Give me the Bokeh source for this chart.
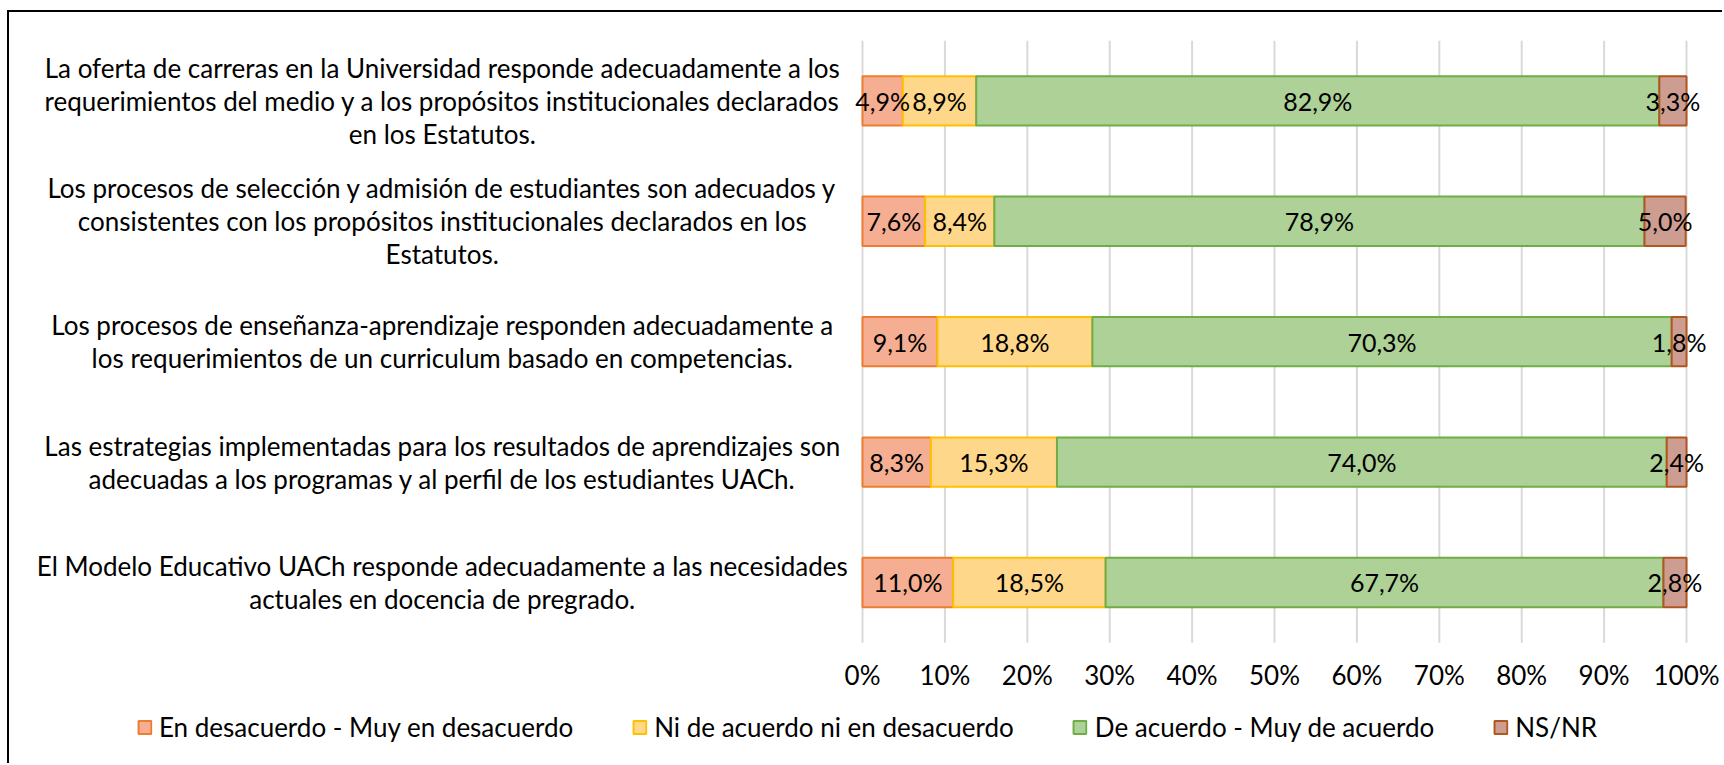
from bokeh.plotting import figure
from bokeh.models import ColumnDataSource, Legend, LegendItem, Range1d
from bokeh.core.properties import value
from bokeh.embed import file_html
from bokeh.resources import INLINE
import numpy as np

# ---------------- data ----------------
categories = [
    "La oferta de carreras en la Universidad responde adecuadamente a los requerimientos del medio y a los propósitos institucionales declarados en los Estatutos.",
    "Los procesos de selección y admisión de estudiantes son adecuados y consistentes con los propósitos institucionales declarados en los Estatutos.",
    "Los procesos de enseñanza-aprendizaje responden adecuadamente a los requerimientos de un curriculum basado en competencias.",
    "Las estrategias implementadas para los resultados de aprendizajes son adecuadas a los programas y al perfil de los estudiantes UACh.",
    "El Modelo Educativo UACh responde adecuadamente a las necesidades actuales en docencia de pregrado.",
]
category_lines = [
    "La oferta de carreras en la Universidad responde adecuadamente a los\nrequerimientos del medio y a los propósitos institucionales declarados\nen los Estatutos.",
    "Los procesos de selección y admisión de estudiantes son adecuados y\nconsistentes con los propósitos institucionales declarados en los\nEstatutos.",
    "Los procesos de enseñanza-aprendizaje responden adecuadamente a\nlos requerimientos de un curriculum basado en competencias.",
    "Las estrategias implementadas para los resultados de aprendizajes son\nadecuadas a los programas y al perfil de los estudiantes UACh.",
    "El Modelo Educativo UACh responde adecuadamente a las necesidades\nactuales en docencia de pregrado.",
]
series_names = [
    "En desacuerdo - Muy en desacuerdo",
    "Ni de acuerdo ni en desacuerdo",
    "De acuerdo - Muy de acuerdo",
    "NS/NR",
]
en_desacuerdo = [4.9, 7.6, 9.1, 8.3, 11.0]
ni_ni = [8.9, 8.4, 18.8, 15.3, 18.5]
de_acuerdo = [82.9, 78.9, 70.3, 74.0, 67.7]
ns_nr = [3.3, 5.0, 1.8, 2.4, 2.8]
tick_values = [0, 10, 20, 30, 40, 50, 60, 70, 80, 90, 100]
tick_labels = ["0%", "10%", "20%", "30%", "40%", "50%", "60%", "70%", "80%", "90%", "100%"]

# ---------------- style ----------------
FONT = "Lato"
FS = "26px"
fills = ["#F5AE92", "#FFD78A", "#ADD197", "#CD9D91"]
lines = ["#ED7D31", "#FFC000", "#70AD47", "#B0561E"]
fields = ["s0", "s1", "s2", "s3"]
LABEL_X = -51.0      # centre of the category label block (in axis units)
TICK_Y = -0.772      # vertical position of the percentage tick labels
BAR_H = 0.41

n = len(categories)
ypos = list(range(n - 1, -1, -1))   # first category on top

src = ColumnDataSource(dict(y=ypos, s0=en_desacuerdo, s1=ni_ni, s2=de_acuerdo, s3=ns_nr))

p = figure(width=1715, height=753,
           x_range=Range1d(-103.52, 104.61), y_range=Range1d(-1.520, 4.734),
           x_axis_type=None, y_axis_type=None,
           output_backend="svg", toolbar_location=None,
           min_border_left=0, min_border_right=0, min_border_top=0, min_border_bottom=0)
p.styles = {"margin-left": "7px", "margin-top": "10px",
            "border-left": "2px solid black", "border-top": "2px solid black"}
p.outline_line_color = None
p.background_fill_color = "white"
p.border_fill_color = "white"
p.grid.visible = False

# vertical gridlines (0% .. 100%)
p.segment(x0=tick_values, x1=tick_values, y0=-0.5, y1=n - 0.5,
          line_color="#D9D9D9", line_width=2)

# stacked bars
renderers = p.hbar_stack(fields, y="y", height=BAR_H, source=src,
                         fill_color=fills, line_color=lines, line_width=2)

# tick labels
p.text(x=tick_values, y=[TICK_Y] * len(tick_values), text=tick_labels,
       text_align="center", text_baseline="middle",
       text_font=value(FONT), text_font_size=value(FS), text_color="black")

# data labels
vals = np.array([en_desacuerdo, ni_ni, de_acuerdo, ns_nr])
left = np.cumsum(vals, axis=0) - vals
centers = left + vals / 2
lab_x, lab_y, lab_t = [], [], []
for s in range(vals.shape[0]):
    for i in range(n):
        lab_x.append(float(centers[s, i]))
        lab_y.append(ypos[i])
        lab_t.append(f"{vals[s, i]:.1f}".replace(".", ",") + "%")
p.text(x=lab_x, y=lab_y, text=lab_t, text_align="center", text_baseline="middle",
       text_font=value(FONT), text_font_size=value("25px"), text_color="black")

# category labels
p.text(x=[LABEL_X] * n, y=ypos, text=category_lines, text_align="center",
       text_baseline="middle", text_font=value(FONT), text_font_size=value(FS),
       text_line_height=1.03, text_color="black")

legend = Legend(items=[LegendItem(label=nm, renderers=[r]) for nm, r in zip(series_names, renderers)],
                orientation="horizontal", location="bottom_center",
                glyph_width=16, glyph_height=16, label_standoff=7, spacing=58,
                label_text_font=FONT, label_text_font_size=FS, label_text_color="black",
                border_line_color=None, background_fill_alpha=0,
                margin=22, padding=0)
p.add_layout(legend)

open("out.html", "w").write(file_html(p, INLINE))
